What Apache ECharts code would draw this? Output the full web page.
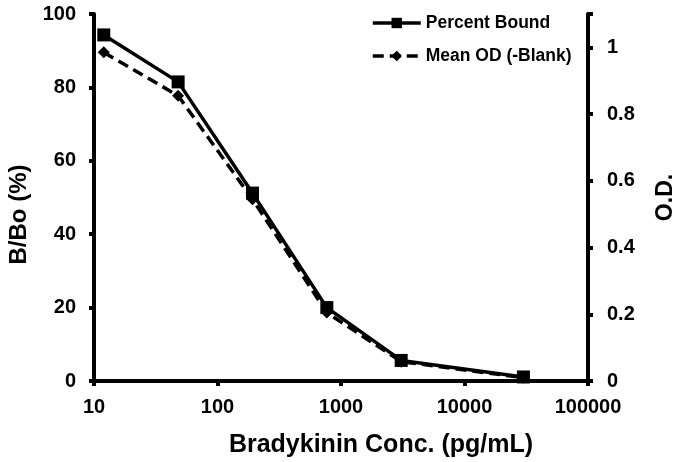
<!DOCTYPE html>
<html><head><meta charset="utf-8">
<script src="https://cdn.jsdelivr.net/npm/echarts@6/dist/echarts.min.js"></script>
<style>html,body{margin:0;padding:0;background:#fff}#c{width:680px;height:462px}</style>
</head><body><div id="c"></div>
<script>
const concentrations = [12, 48, 192, 768, 3072, 30000];
const percentBound = [94.3, 81.5, 51.2, 20.0, 5.6, 1.1];
const meanOD = [0.985, 0.855, 0.545, 0.205, 0.058, 0.01];
const seriesNames = ['Percent Bound', 'Mean OD (-Blank)'];
const F = '"Liberation Sans", Arial, sans-serif';
const chart = echarts.init(document.getElementById('c'), null, {renderer: 'canvas'});
const tickLabel = {fontFamily: F, fontWeight: 'bold', fontSize: 20, color: '#000'};
const titleStyle = {fontFamily: F, fontWeight: 'bold', fontSize: 24, color: '#000'};
chart.setOption({
  animation: false,
  grid: {left: 94, right: 92, top: 14, bottom: 81, containLabel: false, outerBoundsMode: 'none'},
  legend: {
    orient: 'vertical', left: 366, top: 9, itemGap: 15, itemWidth: 48, itemHeight: 13,
    lineStyle: {width: 3.5},
    textStyle: {fontFamily: F, fontWeight: 'bold', fontSize: 17.5, color: '#000'},
    data: seriesNames
  },
  xAxis: {
    type: 'log', logBase: 10, min: 10, max: 100000,
    name: 'Bradykinin Conc. (pg/mL)', nameLocation: 'middle', nameGap: 52,
    nameTextStyle: Object.assign({}, titleStyle, {fontSize: 25, padding: [0, 0, 0, 80]}),
    axisLine: {lineStyle: {color: '#000', width: 4}},
    axisTick: {show: true, length: 5, lineStyle: {color: '#000', width: 4}},
    minorTick: {show: false},
    splitLine: {show: false},
    axisLabel: Object.assign({margin: 16, formatter: v => String(Math.round(v))}, tickLabel)
  },
  yAxis: [{
    type: 'value', min: 0, max: 100, interval: 20,
    name: 'B/Bo (%)', nameLocation: 'middle', nameGap: 61, nameRotate: 90,
    nameTextStyle: Object.assign({}, titleStyle, {padding: [0, 34, 0, 0]}),
    axisLine: {show: true, lineStyle: {color: '#000', width: 4}},
    axisTick: {show: true, length: 5, lineStyle: {color: '#000', width: 4}},
    splitLine: {show: false},
    axisLabel: Object.assign({margin: 18}, tickLabel)
  }, {
    type: 'value', min: 0, max: 1.1, interval: 0.2,
    name: 'O.D.', nameLocation: 'middle', nameGap: 66, nameRotate: 90,
    nameTextStyle: Object.assign({}, titleStyle, {fontSize: 23}),
    axisLine: {show: true, lineStyle: {color: '#000', width: 4}},
    axisTick: {show: true, length: 5, lineStyle: {color: '#000', width: 4}},
    splitLine: {show: false},
    axisLabel: Object.assign({margin: 19, formatter: v => v > 1.05 ? '' : String(+v.toFixed(1))}, tickLabel)
  }],
  series: [{
    name: seriesNames[0], type: 'line', yAxisIndex: 0,
    data: concentrations.map((c, i) => [c, percentBound[i]]),
    symbol: 'rect', symbolSize: 13,
    itemStyle: {color: '#000'},
    lineStyle: {color: '#000', width: 3.5, type: 'solid'},
    z: 3
  }, {
    name: seriesNames[1], type: 'line', yAxisIndex: 1,
    data: concentrations.map((c, i) => [c, meanOD[i]]),
    symbol: 'diamond', symbolSize: 12,
    itemStyle: {color: '#000'},
    lineStyle: {color: '#000', width: 3.5, type: [11, 6]},
    z: 2
  }]
});
</script></body></html>
